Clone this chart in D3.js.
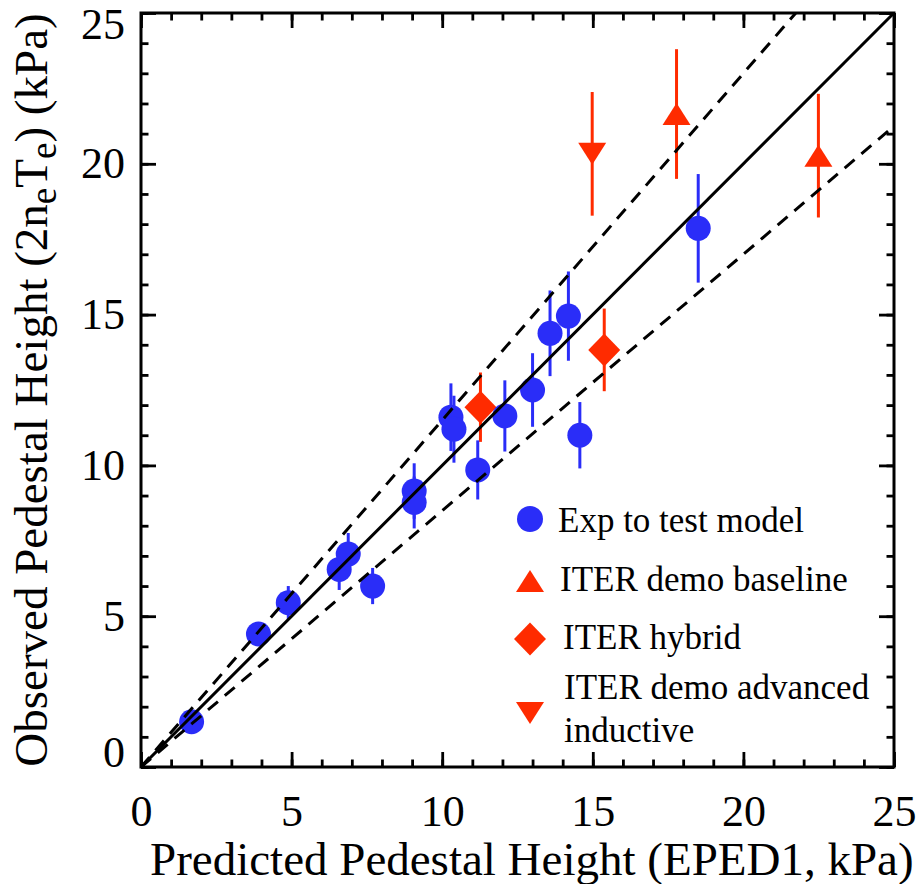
<!DOCTYPE html>
<html>
<head>
<meta charset="utf-8">
<script src="https://cdn.jsdelivr.net/npm/d3@7"></script>
<style>
  body { margin: 0; background: #fff; }
  svg { display: block; }
  text { font-family: "Liberation Serif", "Times New Roman", serif; fill: #000; }
</style>
</head>
<body>
<svg id="chart" width="917" height="884"></svg>
<script>
// ─── Data ────────────────────────────────────────────────────────────────────
// Experiments used to test the model
const expX   = [1.68, 3.90, 4.89, 6.58, 6.88, 7.69, 9.07, 9.07, 10.29, 10.39, 11.18, 12.08, 13.00, 13.58, 14.19, 14.57, 18.50];
const expY   = [1.50, 4.41, 5.45, 6.55, 7.06, 6.00, 9.15, 8.77, 11.60, 11.20, 9.85, 11.64, 12.50, 14.38, 14.95, 11.00, 17.86];
const expErr = [0.30, 0.30, 0.55, 0.68, 0.70, 0.60, 0.92, 0.86, 1.12, 1.11, 0.98, 1.18, 1.22, 1.42, 1.48, 1.10, 1.80];

// ITER demo baseline
const baseX   = [17.78, 22.49];
const baseY   = [21.65, 20.27];
const baseErr = [2.15, 2.05];

// ITER hybrid
const hybX   = [11.27, 15.38];
const hybY   = [11.93, 13.83];
const hybErr = [1.15, 1.37];

// ITER demo advanced inductive
const advX   = [14.98];
const advY   = [20.33];
const advErr = [2.05];

// Reference lines: y = slope * x
const lineSlopes = [1, 1.15, 0.85];
const lineDashed = [false, true, true];

const majorTicks = [0, 5, 10, 15, 20, 25];
const minorTicks = d3.range(0, 26);

const legendLabels = ['Exp to test model', 'ITER demo baseline', 'ITER hybrid', ['ITER demo advanced', 'inductive']];
const legendShapes = ['circle', 'up', 'diamond', 'down'];

// ─── Layout ──────────────────────────────────────────────────────────────────
const BLUE = '#2a2df8';
const RED  = '#ff2b00';
const margin = { top: 13, right: 23, bottom: 117, left: 141 };
const W = 917, H = 884;
const iw = W - margin.left - margin.right;
const ih = H - margin.top - margin.bottom;

const svg = d3.select('#chart');
const g = svg.append('g').attr('transform', `translate(${margin.left},${margin.top})`);

const x = d3.scaleLinear().domain([0, 25]).range([0, iw]);
const y = d3.scaleLinear().domain([0, 25]).range([ih, 0]);

svg.append('defs').append('clipPath').attr('id', 'plot-clip')
  .append('rect').attr('width', iw).attr('height', ih);

// marker shapes, centred on their bounding box
const shapePath = {
  circle:  r => d3.symbol(d3.symbolCircle, Math.PI * r * r)(),
  up:      () => 'M0,-11L14,11L-14,11Z',
  down:    () => 'M0,11L14,-11L-14,-11Z',
  diamond: () => 'M0,-16.5L16,0L0,16.5L-16,0Z'
};

function drawSeries(xs, ys, errs, color, shape) {
  const pts = xs.map((v, i) => ({ x: v, y: ys[i], e: errs[i] }));
  g.append('g').selectAll('line').data(pts).join('line')
    .attr('x1', d => x(d.x)).attr('x2', d => x(d.x))
    .attr('y1', d => y(d.y - d.e)).attr('y2', d => y(d.y + d.e))
    .attr('stroke', color).attr('stroke-width', 3);
  g.append('g').selectAll('path').data(pts).join('path')
    .attr('transform', d => `translate(${x(d.x)},${y(d.y)})`)
    .attr('d', shapePath[shape](12.5))
    .attr('fill', color);
}

drawSeries(hybX, hybY, hybErr, RED, 'diamond');
drawSeries(baseX, baseY, baseErr, RED, 'up');
drawSeries(advX, advY, advErr, RED, 'down');
drawSeries(expX, expY, expErr, BLUE, 'circle');

// reference lines (drawn on top of the markers, as in the figure)
const lineG = g.append('g').attr('clip-path', 'url(#plot-clip)');
lineSlopes.forEach((s, i) => {
  lineG.append('line')
    .attr('x1', x(0)).attr('y1', y(0))
    .attr('x2', x(25)).attr('y2', y(25 * s))
    .attr('stroke', '#000').attr('stroke-width', 3)
    .attr('stroke-dasharray', lineDashed[i] ? '13,9' : null);
});

// ─── Axes: inward ticks on all four sides ───────────────────────────────────
function styleAxis(sel) {
  sel.select('.domain').remove();
  sel.selectAll('.tick line').attr('stroke', '#000').attr('stroke-width', 2.8);
  sel.selectAll('text').style('font-size', '44px').attr('fill', '#000');
}
const noLab = () => '';

g.append('g').attr('transform', `translate(0,${ih})`)
  .call(d3.axisBottom(x).tickValues(minorTicks).tickSize(-7.5).tickFormat(noLab)).call(styleAxis);
g.append('g').attr('transform', `translate(0,${ih})`)
  .call(d3.axisBottom(x).tickValues(majorTicks).tickSize(-15).tickPadding(28).tickFormat(d3.format('d'))).call(styleAxis);
g.append('g')
  .call(d3.axisTop(x).tickValues(minorTicks).tickSize(-7.5).tickFormat(noLab)).call(styleAxis);
g.append('g')
  .call(d3.axisTop(x).tickValues(majorTicks).tickSize(-15).tickFormat(noLab)).call(styleAxis);

g.append('g')
  .call(d3.axisLeft(y).tickValues(minorTicks).tickSize(-7.5).tickFormat(noLab)).call(styleAxis);
const yAx = g.append('g')
  .call(d3.axisLeft(y).tickValues(majorTicks).tickSize(-15).tickPadding(16).tickFormat(d3.format('d'))).call(styleAxis);
// end labels are pulled inward, as in the original
yAx.selectAll('.tick text').attr('dy', d => d === 25 ? '0.57em' : d === 0 ? '-0.02em' : '0.32em');

g.append('g').attr('transform', `translate(${iw},0)`)
  .call(d3.axisRight(y).tickValues(minorTicks).tickSize(-7.5).tickFormat(noLab)).call(styleAxis);
g.append('g').attr('transform', `translate(${iw},0)`)
  .call(d3.axisRight(y).tickValues(majorTicks).tickSize(-15).tickFormat(noLab)).call(styleAxis);

g.append('rect').attr('width', iw).attr('height', ih)
  .attr('fill', 'none').attr('stroke', '#000').attr('stroke-width', 3);

// ─── Axis titles ─────────────────────────────────────────────────────────────
svg.append('text')
  .attr('x', 150).attr('y', 875)
  .style('font-size', '47px')
  .text('Predicted Pedestal Height (EPED1, kPa)');

const yt = svg.append('text')
  .attr('transform', `translate(47,${margin.top + ih / 2}) rotate(-90)`)
  .attr('text-anchor', 'middle')
  .style('font-size', '47px');
yt.append('tspan').text('Observed Pedestal Height (2n');
yt.append('tspan').attr('dy', 9).style('font-size', '37px').text('e');
yt.append('tspan').attr('dy', -9).text('T');
yt.append('tspan').attr('dy', 9).style('font-size', '37px').text('e');
yt.append('tspan').attr('dy', -9).text(') (kPa)');

// ─── Legend ──────────────────────────────────────────────────────────────────
const legMarkerX = 530;
const legMarkerY = [519, 581, 639, 713];
const legTextX   = [558, 560, 563, 564];
const legTextY   = [532, 591, 649, 699];
const legColors  = [BLUE, RED, RED, RED];
const leg = svg.append('g');
legendLabels.forEach((lab, i) => {
  leg.append('path')
    .attr('transform', `translate(${legMarkerX},${legMarkerY[i]})`)
    .attr('d', shapePath[legendShapes[i]](13))
    .attr('fill', legColors[i]);
  const lines = Array.isArray(lab) ? lab : [lab];
  lines.forEach((t, j) => {
    leg.append('text')
      .attr('x', legTextX[i]).attr('y', legTextY[i] + j * 43)
      .style('font-size', '35px')
      .text(t);
  });
});
</script>
</body>
</html>
